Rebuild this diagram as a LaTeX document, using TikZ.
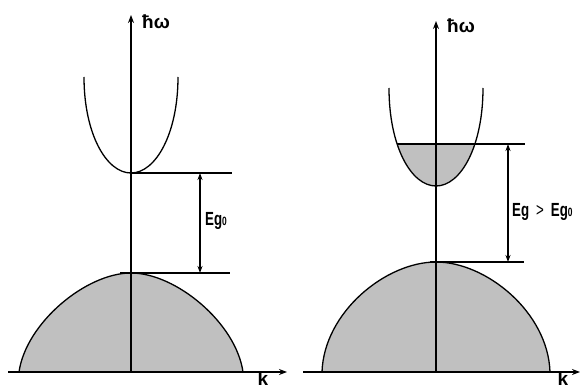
\documentclass[tikz,border=0pt]{standalone}
\usepackage{fontspec}
\setmainfont{Liberation Sans}
\newfontfamily\narrowfont[FakeStretch=0.7]{Liberation Sans}
\usetikzlibrary{arrows.meta}
\definecolor{bandfill}{RGB}{192,192,192}
\begin{document}
\begin{tikzpicture}[x=1pt,y=-1pt,
  axis/.style={line width=1.6pt,-{Stealth[length=8pt,width=6pt]}},
  band/.style={line width=1.3pt},
  level/.style={line width=1.3pt},
  gaparrow/.style={line width=1.2pt,{Stealth[length=7pt,width=5pt]}-{Stealth[length=7pt,width=5pt]}},
  axlbl/.style={font=\bfseries\fontsize{19}{19}\selectfont,inner sep=0pt},
  gaplbl/.style={font=\narrowfont\bfseries\fontsize{19}{19}\selectfont,inner sep=0pt,anchor=west}]
\useasboundingbox (0,0) rectangle (584,390);
% ---------- left panel ----------
\fill[bandfill] (19,372) .. controls (26,323) and (86,273) .. (131,273)
  .. controls (176,273) and (236,323) .. (243,372) -- cycle;
\draw[band] (19,372) .. controls (26,323) and (86,273) .. (131,273)
  .. controls (176,273) and (236,323) .. (243,372);
\draw[band] (84,77) .. controls (84,133) and (106,173) .. (131,173)
  .. controls (156,173) and (178,133) .. (178,77);
\draw[level] (131,173) -- (232,173);
\draw[level] (120,273) -- (230,273);
\coordinate (g1t) at (200,173);
\coordinate (g1b) at (200,273);
\draw[gaparrow] (g1t) -- (g1b);
\node[gaplbl] (eg0) at (205,221) {Eg{\fontsize{12}{12}\selectfont 0}};
\coordinate (ox1) at (131,372);
\coordinate (ky1) at (131,15);
\coordinate (kx0) at (8,372);
\coordinate (kx1) at (287,372);
\draw[axis] (kx0) -- (kx1);
\draw[axis] (ox1) -- (ky1);
\node[axlbl,anchor=west] (hw1) at (142,22) {ħω};
\node[axlbl] (k1) at (263,379) {k};
% ---------- right panel ----------
\fill[bandfill] (322,372) .. controls (324,312) and (386,262) .. (436,262)
  .. controls (486,262) and (548,312) .. (550,372) -- cycle;
\draw[band] (322,372) .. controls (324,312) and (386,262) .. (436,262)
  .. controls (486,262) and (548,312) .. (550,372);
\begin{scope}
  \clip (380,144) rectangle (492,192);
  \fill[bandfill] (389,88) .. controls (389,146) and (411,186) .. (436,186)
    .. controls (461,186) and (483,146) .. (483,88) -- cycle;
\end{scope}
\draw[band] (389,88) .. controls (389,146) and (411,186) .. (436,186)
  .. controls (461,186) and (483,146) .. (483,88);
\draw[level] (397,144) -- (525,144);
\draw[level] (430,262) -- (524,262);
\coordinate (g2t) at (508,144);
\coordinate (g2b) at (508,262);
\draw[gaparrow] (g2t) -- (g2b);
\node[gaplbl] (eg) at (512,212) {Eg\hspace{7pt}{\mdseries >}\hspace{7pt}Eg{\fontsize{12}{12}\selectfont 0}};
\coordinate (ox2) at (436,372);
\coordinate (ky2) at (436,21);
\coordinate (kx2) at (303,372);
\coordinate (kx3) at (580,372);
\draw[axis] (kx2) -- (kx3);
\draw[axis] (ox2) -- (ky2);
\node[axlbl,anchor=west] (hw2) at (447,26) {ħω};
\node[axlbl] (k2) at (563,379) {k};
\end{tikzpicture}
\end{document}
